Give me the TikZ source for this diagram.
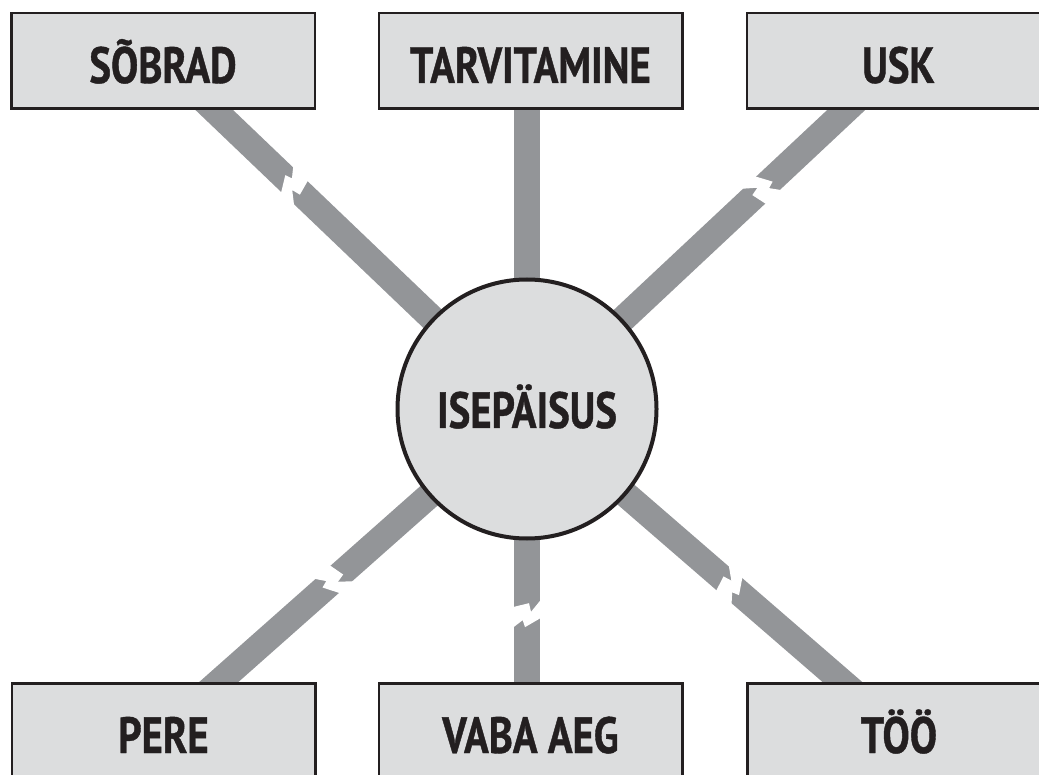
\documentclass[tikz,border=0pt]{standalone}
\usepackage{fontspec}
\newfontfamily\lblfont{PT Sans}[FakeStretch=0.8, BoldFeatures={FakeBold=0.8}]
\usetikzlibrary{calc,backgrounds}
\definecolor{boxfill}{HTML}{DCDDDE}
\definecolor{barcol}{HTML}{939598}
\definecolor{ink}{HTML}{231F20}
\begin{document}
\begin{tikzpicture}[x=1pt,y=-1pt,
  lbl/.style={font=\lblfont\bfseries\fontsize{51}{51}\selectfont, text=ink},
  boxnode/.style={lbl, draw=ink, line width=2.5pt, fill=boxfill, minimum width=303.5pt, minimum height=95.5pt, inner sep=0pt, text height=44pt, text depth=0pt},
  hub/.style={lbl, circle, draw=ink, line width=4pt, fill=boxfill, minimum size=259pt, inner sep=0pt, text height=38pt, text depth=0pt},
  link/.style={draw=barcol, line width=26pt},
  gapfill/.style={fill=white}]
\useasboundingbox (0,0) rectangle (1039,775);
\node[boxnode] (sob)  at (163,61)  {SÕBRAD};
\node[boxnode] (tarv) at (530.5,61) {TARVITAMINE};
\node[boxnode] (usk)  at (898.5,61) {USK};
\node[boxnode] (pere) at (163.5,731) {PERE};
\node[boxnode] (vaba) at (530.5,731) {VABA AEG};
\node[boxnode] (too)  at (899,731) {TÖÖ};
\node[hub] (c) at (527,409) {ISEPÄISUS};
\coordinate (tarvend) at (c.center |- tarv.center);
\coordinate (vabaend) at (c.center |- vaba.center);
\def\gapshape{(-6,16) -- (-6.3,13) -- (-10,-2) -- (-1.3,-4) -- (-12.3,-13) -- (-13,-16) -- (5,-16) -- (5.3,-13) -- (14,2) -- (7,4.3) -- (13.7,13) -- (14,16) -- cycle}
\begin{scope}[on background layer]
  \draw[link] (c.center) -- (sob.center);
  \draw[link] (c.center) -- (tarvend);
  \draw[link] (c.center) -- (usk.center);
  \draw[link] (c.center) -- (pere.center);
  \draw[link] (c.center) -- (vabaend);
  \draw[link] (c.center) -- (too.center);
  \fill[gapfill, shift={($(c.center)!0.64!(sob.center)$)}, rotate=136.3] \gapshape;
  \fill[gapfill, shift={($(c.center)!0.63!(usk.center)$)}, rotate=43.1] \gapshape;
  \fill[gapfill, shift={($(c.center)!0.53!(pere.center)$)}, rotate=221.5] \gapshape;
  \fill[gapfill, shift={($(c.center)!0.634!(vabaend)$)}, rotate=-90] \gapshape;
  \fill[gapfill, shift={($(c.center)!0.545!(too.center)$)}, rotate=-40.9] \gapshape;
\end{scope}
\end{tikzpicture}
\end{document}
